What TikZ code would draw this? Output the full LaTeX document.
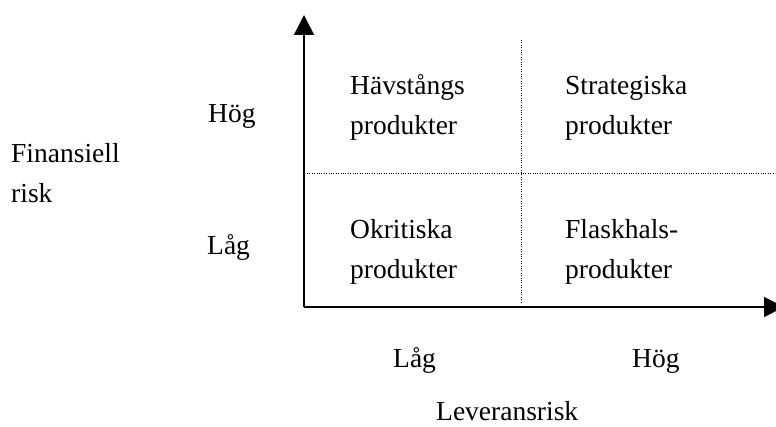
\documentclass[tikz,border=0pt]{standalone}
\usepackage{fontspec}
\setmainfont{Liberation Serif}
\usetikzlibrary{arrows.meta, positioning}
\tikzset{
  axis/.style={line width=1.6pt, -{Triangle[length=20pt, width=20pt]}},
  grid/.style={line width=0.9pt, dash pattern=on 1pt off 1.4pt},
  cell/.style={anchor=base west, inner sep=0pt, align=left, font=\fontsize{27.5}{40}\selectfont},
  tag/.style={anchor=base west, inner sep=0pt, font=\fontsize{27.5}{40}\selectfont},
}
\begin{document}
\begin{tikzpicture}[x=1pt, y=-1pt]
  \useasboundingbox (0,0) rectangle (776,427);

  % axes
  \coordinate (origin) at (304,307);
  \coordinate (ytop) at (304,15);
  \coordinate (xend) at (784,307);
  \draw[axis] (origin) -- (ytop);
  \draw[axis] (origin) -- (xend);

  % quadrant lines
  \coordinate (hleft) at (307,173);
  \coordinate (hright) at (775,173);
  \coordinate (vtop) at (521,40);
  \coordinate (vbot) at (521,303);
  \draw[grid] (hleft) -- (hright);
  \draw[grid] (vtop) -- (vbot);

  % quadrants (anchored on the second line)
  \node[cell] (lever) at (350,135) {Hävstångs\\produkter};
  \node[cell] (strat) at (565,135) {Strategiska\\produkter};
  \node[cell] (okrit) at (350,279) {Okritiska\\produkter};
  \node[cell] (flask) at (565,279) {Flaskhals-\\produkter};

  % vertical axis labels
  \node[tag] (yhigh) at (208,123) {Hög};
  \node[tag] (ylow) at (207,255) {Låg};
  \node[cell] (ytitle) at (11,203) {Finansiell\\risk};

  % horizontal axis labels
  \node[tag] (xlow) at (393,367) {Låg};
  \node[tag] (xhigh) at (632,367) {Hög};
  \node[tag] (xtitle) at (436,420) {Leveransrisk};
\end{tikzpicture}
\end{document}
